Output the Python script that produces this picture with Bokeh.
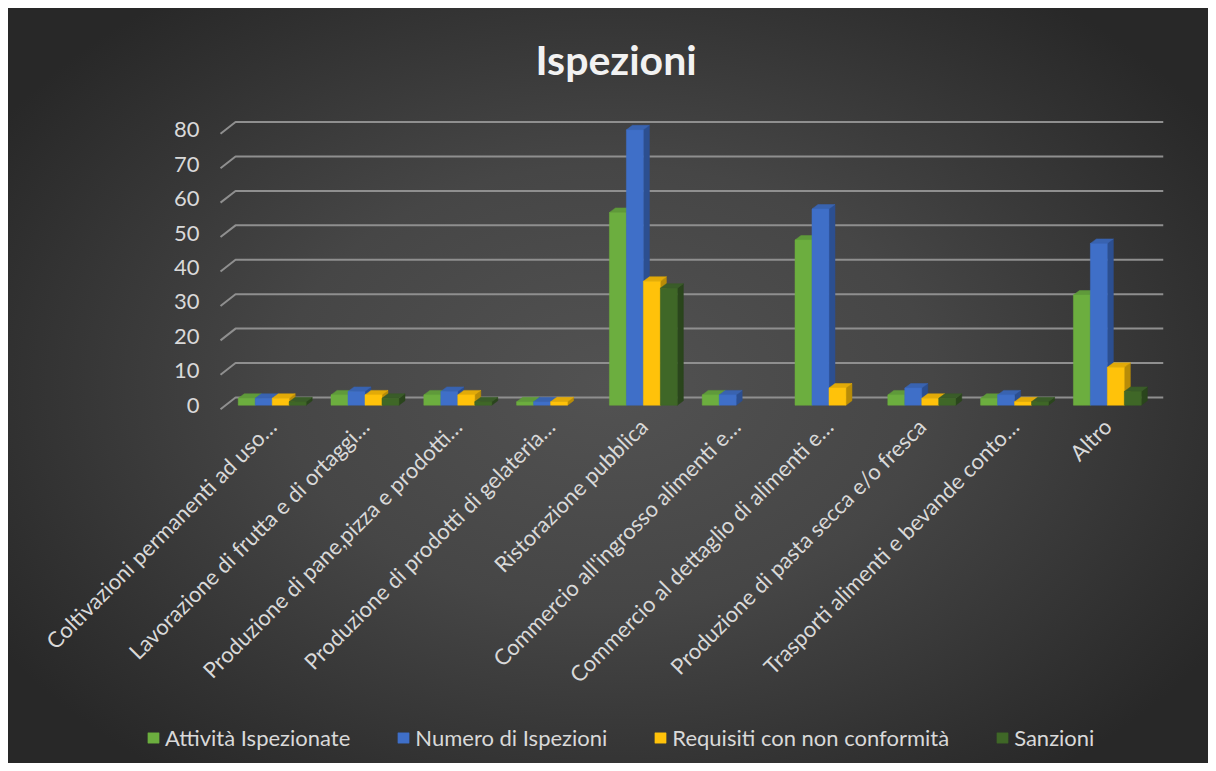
import math
from bokeh.plotting import figure
from bokeh.models import Range1d, FixedTicker, Legend, LegendItem
from bokeh.embed import file_html
from bokeh.resources import INLINE

# ---------------- data ----------------
categories = [
    "Coltivazioni permanenti ad uso…",
    "Lavorazione di frutta e di ortaggi…",
    "Produzione di pane,pizza e prodotti…",
    "Produzione di prodotti di gelateria…",
    "Ristorazione pubblica",
    "Commercio all'ingrosso alimenti e…",
    "Commercio al dettaglio di alimenti e…",
    "Produzione di pasta secca e/o fresca",
    "Trasporti alimenti e bevande conto…",
    "Altro",
]
attivita_ispezionate = [2, 3, 3, 1, 56, 3, 48, 3, 2, 32]
numero_ispezioni = [2, 4, 4, 1, 80, 3, 57, 5, 3, 47]
requisiti_non_conformita = [2, 3, 3, 1, 36, 0, 5, 2, 1, 11]
sanzioni = [1, 2, 1, 0, 34, 0, 0, 2, 1, 4]
series_names = ["Attività Ispezionate", "Numero di Ispezioni",
                "Requisiti con non conformità", "Sanzioni"]
y_ticks = [0, 10, 20, 30, 40, 50, 60, 70, 80]

# ---------------- styles ----------------
front_colors = ["#6cae3f", "#3f6fc8", "#ffc20a", "#3f6727"]
top_colors = ["#5f9a3a", "#3963b0", "#e2aa08", "#3a5c29"]
side_colors = ["#4c7d30", "#2c4f90", "#b88c08", "#2a451c"]
FONT = "Lato"
TXT = "#d9d9d9"

series = [attivita_ispezionate, numero_ispezioni, requisiti_non_conformita, sanzioni]

bw = 0.183      # bar width (category units)
dx = 0.065      # 3D depth, x
dy = 1.31       # 3D depth, y
X_LEFT = -0.057  # left end of the floor / wall
Y_FLOOR = -1.54  # where the category axis sits

p = figure(frame_width=1119, frame_height=648, output_backend="svg", toolbar_location=None,
           x_range=Range1d(-1.9537, 10.105), y_range=Range1d(-104.08, 84.16),
           min_border_left=44, min_border_right=45, min_border_top=115,
           min_border_bottom=10)
p.styles = {"background": "radial-gradient(ellipse 60% 65% at 50% 50%, #525252 0%, #464646 45%, #303030 85%, #282828 100%) 8px 8px / 1200px 755px no-repeat, #ffffff"}
p.border_fill_alpha = 0
p.background_fill_alpha = 0
p.outline_line_color = None
p.xgrid.visible = False
p.ygrid.visible = False

# title
p.title.text = "Ispezioni"
p.title.align = "left"
p.title.offset = 491
p.title.text_font = FONT
p.title.text_font_style = "bold"
p.title.text_font_size = "41px"
p.title.text_color = "#f2f2f2"
p.title.standoff = 63

# back-wall gridlines with floor diagonal
gx, gy = [], []
for v in y_ticks:
    gx.append([X_LEFT, 0.105, 10.105])
    gy.append([v - 1.16, v + 2.25, v + 2.25])
p.multi_line(gx, gy, line_color="#8f8f8f", line_width=2)

# 3D bars
legend_items = []
for k, vals in enumerate(series):
    xs_c = [i + 0.5 + (k - 1.5) * bw for i in range(len(categories))]
    side_x, side_y, top_x, top_y = [], [], [], []
    fx, fv = [], []
    for xc, v in zip(xs_c, vals):
        if v <= 0:
            continue
        x0, x1 = xc - bw / 2, xc + bw / 2
        side_x.append([x1, x1, x1 + dx, x1 + dx])
        side_y.append([0, v, v + dy, dy])
        top_x.append([x0, x1, x1 + dx, x0 + dx])
        top_y.append([v, v, v + dy, v + dy])
        fx.append(xc)
        fv.append(v)
    p.patches(side_x, side_y, fill_color=side_colors[k], line_color=side_colors[k], line_width=0.5)
    p.patches(top_x, top_y, fill_color=top_colors[k], line_color=top_colors[k], line_width=0.5)
    r = p.vbar(x=fx, top=fv, bottom=0, width=bw, fill_color=front_colors[k],
               line_color=front_colors[k], line_width=0.5)
    legend_items.append(LegendItem(label=series_names[k], renderers=[r]))

# axes (pinned to the floor / wall of the chart)
p.yaxis.fixed_location = X_LEFT
p.yaxis.ticker = FixedTicker(ticks=y_ticks)
p.yaxis.axis_line_color = None
p.yaxis.major_tick_line_color = None
p.yaxis.minor_tick_line_color = None
p.yaxis.major_label_text_font = FONT
p.yaxis.major_label_text_font_size = "22px"
p.yaxis.major_label_text_color = TXT
p.yaxis.major_label_standoff = 15

p.xaxis.fixed_location = Y_FLOOR
p.xaxis.ticker = FixedTicker(ticks=[i + 0.5 for i in range(len(categories))])
p.xaxis.major_label_overrides = {i + 0.5: c for i, c in enumerate(categories)}
p.xaxis.major_label_orientation = math.pi / 4
p.xaxis.axis_line_color = None
p.xaxis.major_tick_line_color = None
p.xaxis.minor_tick_line_color = None
p.xaxis.major_label_text_font = FONT
p.xaxis.major_label_text_font_size = "22px"
p.xaxis.major_label_text_color = TXT
p.xaxis.major_label_standoff = 6

legend = Legend(items=legend_items, orientation="horizontal", location=(102, 12),
                background_fill_alpha=0, border_line_color=None,
                label_text_font=FONT, label_text_font_size="22px", label_text_color=TXT,
                glyph_width=14, glyph_height=13, label_standoff=5, spacing=46, padding=10,
                margin=0)
p.add_layout(legend, "center")

open("out.html", "w").write(file_html(p, INLINE))
